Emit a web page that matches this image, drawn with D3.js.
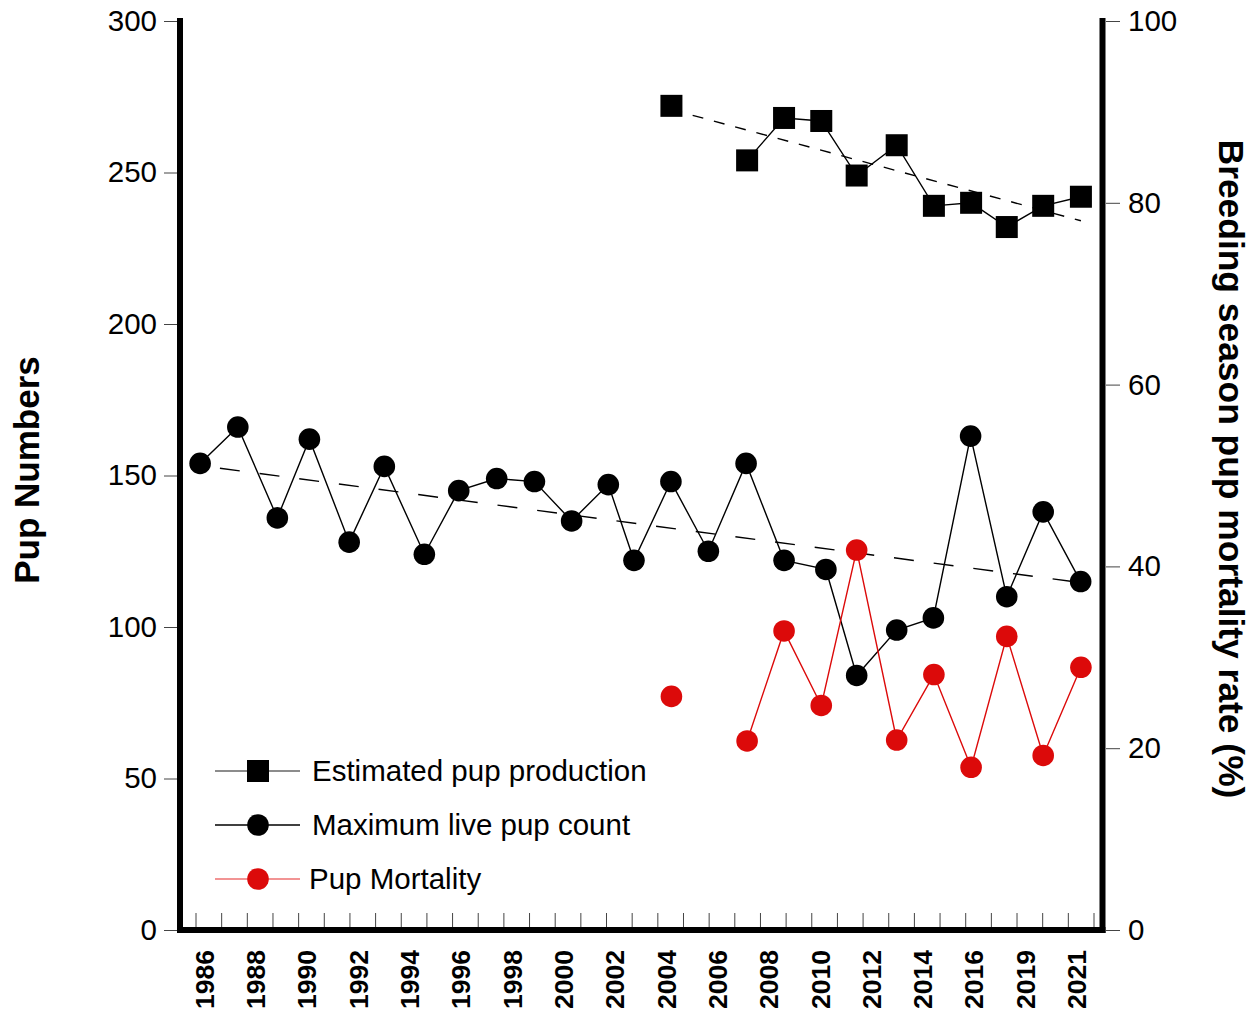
<!DOCTYPE html>
<html>
<head>
<meta charset="utf-8">
<script src="https://cdn.jsdelivr.net/npm/d3@7"></script>
<style>
  html, body { margin: 0; padding: 0; background: #fff; }
  svg { display: block; font-family: "Liberation Sans", Arial, sans-serif; }
</style>
</head>
<body>
<svg id="chart" width="1258" height="1017"></svg>
<script>
// ---- data ----------------------------------------------------------------
// Year labels along the bottom axis, one for every second slot.
const yearLabels = ["1986","1988","1990","1992","1994","1996","1998","2000","2002",
                    "2004","2006","2008","2010","2012","2014","2016","2019","2021"];
const slotCount = 35;                       // number of slots between the first and last tick

// Maximum live pup count: slot position along the year axis and count.
const countSlots = [0.16, 1.63, 3.17, 4.42, 5.97, 7.34, 8.90, 10.24, 11.72, 13.19, 14.64, 16.07,
                    17.07, 18.51, 19.97, 21.44, 22.92, 24.55, 25.75, 27.31, 28.74, 30.19, 31.60,
                    33.02, 34.48];
const liveCount  = [154, 166, 136, 162, 128, 153, 124, 145, 149, 148, 135, 147,
                    122, 148, 125, 154, 122, 119, 84, 99, 103, 163, 110, 138, 115];

// Estimated pup production and pup mortality share the later survey slots.
const laterSlots = [18.53, 19.97, 21.48, 22.92, 24.37, 25.75, 27.31, 28.76, 30.21, 31.60, 33.02, 34.49];
const production = [272, null, 254, 268, 267, 249, 259, 239, 240, 232, 239, 242];
const mortality  = [25.7, null, 20.8, 32.9, 24.7, 41.8, 20.9, 28.1, 17.9, 32.3, 19.2, 28.9];

const leftTicks  = [0, 50, 100, 150, 200, 250, 300];
const rightTicks = [0, 20, 40, 60, 80, 100];

// ---- layout --------------------------------------------------------------
const plot = { left: 180, right: 1102.5, top: 21, bottom: 930 };
const RED = "#dc0a0a";
const svg = d3.select("#chart");

const x  = d3.scaleLinear().domain([0, slotCount]).range([196, 1094]);
const yL = d3.scaleLinear().domain([0, 300]).range([plot.bottom, plot.top]);
const yR = d3.scaleLinear().domain([0, 100]).range([plot.bottom, plot.top]);

// ---- series records ------------------------------------------------------
const countData = countSlots.map((s, i) => ({ s, v: liveCount[i] }));
const prodData  = laterSlots.map((s, i) => ({ s, v: production[i] }));
const mortData  = laterSlots.map((s, i) => ({ s, v: mortality[i] }));

// least-squares trend over the defined points, spanning first to last point
function trend(data) {
  const pts = data.filter(d => d.v != null);
  const mx = d3.mean(pts, d => d.s), my = d3.mean(pts, d => d.v);
  const sxy = d3.sum(pts, d => (d.s - mx) * (d.v - my));
  const sxx = d3.sum(pts, d => (d.s - mx) * (d.s - mx));
  const b = sxy / sxx, a = my - b * mx;
  const s0 = d3.min(pts, d => d.s), s1 = d3.max(pts, d => d.s);
  return [{ s: s0, v: a + b * s0 }, { s: s1, v: a + b * s1 }];
}

// ---- axes ----------------------------------------------------------------
const tickFont = "29.5px";

const gL = svg.append("g").attr("transform", `translate(${plot.left - 3},0)`)
  .call(d3.axisLeft(yL).tickValues(leftTicks).tickSize(13).tickPadding(7));
const gR = svg.append("g").attr("transform", `translate(${plot.right + 3.5},0)`)
  .call(d3.axisRight(yR).tickValues(rightTicks).tickSize(14).tickPadding(8));
[gL, gR].forEach(g => {
  g.select(".domain").remove();
  g.selectAll(".tick line").attr("stroke", "#444").attr("stroke-width", 1);
  g.selectAll(".tick text").attr("fill", "#000").style("font-size", tickFont)
    .attr("font-family", "'Liberation Sans', Arial, sans-serif");
});

// inner tick marks on the bottom axis
svg.append("g").selectAll("line")
  .data(d3.range(slotCount + 1))
  .join("line")
  .attr("x1", d => x(d)).attr("x2", d => x(d))
  .attr("y1", plot.bottom - 17).attr("y2", plot.bottom - 3)
  .attr("stroke", "#444").attr("stroke-width", 1);

// rotated year labels
svg.append("g").selectAll("text")
  .data(yearLabels)
  .join("text")
  .attr("transform", (d, i) => `translate(${x(i * 2 + 0.33)},950) rotate(-90)`)
  .attr("text-anchor", "end")
  .attr("dy", "0.35em")
  .style("font-size", "26.5px")
  .style("font-weight", "bold")
  .text(d => d);

// frame: thick left, right and bottom axis lines
const frame = svg.append("g").attr("stroke", "#000").attr("stroke-width", 6)
  .attr("stroke-linecap", "square");
frame.append("line").attr("x1", plot.left).attr("x2", plot.left)
  .attr("y1", plot.top).attr("y2", plot.bottom);
frame.append("line").attr("x1", plot.right).attr("x2", plot.right)
  .attr("y1", plot.top).attr("y2", plot.bottom);
frame.append("line").attr("x1", plot.left).attr("x2", plot.right)
  .attr("y1", plot.bottom).attr("y2", plot.bottom);

// axis titles
svg.append("text")
  .attr("transform", `translate(27,470) rotate(-90)`)
  .attr("text-anchor", "middle").attr("dy", "0.35em")
  .style("font-size", "35px").style("font-weight", "bold")
  .text("Pup Numbers");
svg.append("text")
  .attr("transform", `translate(1231,469) rotate(90)`)
  .attr("text-anchor", "middle").attr("dy", "0.35em")
  .style("font-size", "35.4px").style("font-weight", "bold")
  .text("Breeding season pup mortality rate (%)");

// ---- trend lines ---------------------------------------------------------
const lineL = d3.line().defined(d => d.v != null).x(d => x(d.s)).y(d => yL(d.v));
const lineR = d3.line().defined(d => d.v != null).x(d => x(d.s)).y(d => yR(d.v));

svg.append("path").datum(trend(countData)).attr("d", lineL)
  .attr("fill", "none").attr("stroke", "#000").attr("stroke-width", 1.4)
  .attr("stroke-dasharray", "20,20").attr("stroke-dashoffset", 20);
svg.append("path").datum(trend(prodData)).attr("d", lineL)
  .attr("fill", "none").attr("stroke", "#000").attr("stroke-width", 1.4)
  .attr("stroke-dasharray", "11,11");

// ---- series lines ----------------------------------------------------------
svg.append("path").datum(countData).attr("d", lineL)
  .attr("fill", "none").attr("stroke", "#000").attr("stroke-width", 1.4);
svg.append("path").datum(mortData).attr("d", lineR)
  .attr("fill", "none").attr("stroke", RED).attr("stroke-width", 1.4);
svg.append("path").datum(prodData).attr("d", lineL)
  .attr("fill", "none").attr("stroke", "#000").attr("stroke-width", 1.4);

// ---- markers -------------------------------------------------------------
const R = 10.8, SQ = 22;
svg.append("g").selectAll("circle")
  .data(countData).join("circle")
  .attr("cx", d => x(d.s)).attr("cy", d => yL(d.v)).attr("r", R).attr("fill", "#000");
svg.append("g").selectAll("circle")
  .data(mortData.filter(d => d.v != null)).join("circle")
  .attr("cx", d => x(d.s)).attr("cy", d => yR(d.v)).attr("r", R).attr("fill", RED);
svg.append("g").selectAll("rect")
  .data(prodData.filter(d => d.v != null)).join("rect")
  .attr("x", d => x(d.s) - SQ / 2).attr("y", d => yL(d.v) - SQ / 2)
  .attr("width", SQ).attr("height", SQ).attr("fill", "#000");

// ---- legend --------------------------------------------------------------
const legendItems = [
  { label: "Estimated pup production", line: "#666", marker: "square", fill: "#000", tx: 312 },
  { label: "Maximum live pup count",  line: "#000", marker: "circle", fill: "#000", tx: 312 },
  { label: "Pup Mortality",           line: "#ee7070", marker: "circle", fill: RED, tx: 309 }
];
const leg = svg.append("g").selectAll("g")
  .data(legendItems).join("g")
  .attr("transform", (d, i) => `translate(0,${771 + i * 54})`);
leg.append("line").attr("x1", 215).attr("x2", 300).attr("y1", 0).attr("y2", 0)
  .attr("stroke", d => d.line).attr("stroke-width", 1.5);
leg.filter(d => d.marker === "square").append("rect")
  .attr("x", 258 - SQ / 2).attr("y", -SQ / 2).attr("width", SQ).attr("height", SQ)
  .attr("fill", d => d.fill);
leg.filter(d => d.marker === "circle").append("circle")
  .attr("cx", 258).attr("cy", 0).attr("r", R).attr("fill", d => d.fill);
leg.append("text").attr("x", d => d.tx).attr("y", 0).attr("dy", "0.35em")
  .style("font-size", "29.5px").text(d => d.label);
</script>
</body>
</html>
